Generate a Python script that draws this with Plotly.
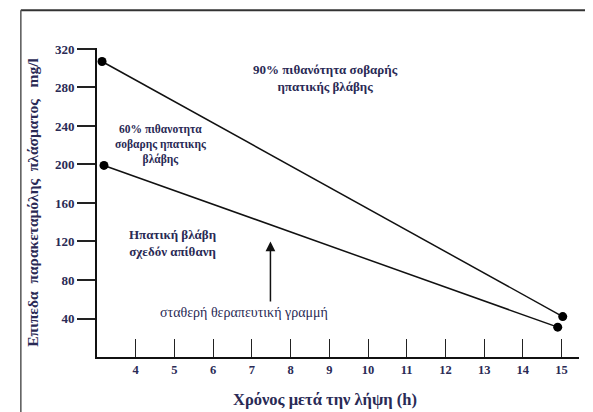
import plotly.graph_objects as go

# Data
upper_x = [3.13, 15.03]
upper_y = [307, 42]
lower_x = [3.18, 14.9]
lower_y = [199, 31]
x_ticks = [4, 5, 6, 7, 8, 9, 10, 11, 12, 13, 14, 15]
y_ticks = [40, 80, 120, 160, 200, 240, 280, 320]

NAVY = "#2a2a55"
FONT = "Liberation Serif"

fig = go.Figure()
for xs, ys in [(upper_x, upper_y), (lower_x, lower_y)]:
    fig.add_trace(go.Scatter(x=xs, y=ys, mode="lines+markers",
                             line=dict(color="#111111", width=1.5),
                             marker=dict(color="#000000", size=9),
                             showlegend=False, hoverinfo="skip"))

fig.update_xaxes(range=[3, 15.45], tickvals=x_ticks,
                 ticktext=[f"<b>{v}</b>" for v in x_ticks],
                 ticks="inside", ticklen=18,
                 tickwidth=1.2, tickcolor="#222", showline=True, linecolor="#111",
                 linewidth=2, showgrid=False, zeroline=False,
                 tickfont=dict(family=FONT, size=12.5, color=NAVY))
fig.update_yaxes(range=[0, 321], tickvals=y_ticks,
                 ticktext=[f"<b>{v}</b>" for v in y_ticks],
                 ticks="outside", ticklen=18,
                 tickwidth=1.5, tickcolor="#222", showline=True, linecolor="#111",
                 linewidth=2, showgrid=False, zeroline=False,
                 tickfont=dict(family=FONT, size=13, color=NAVY),
                 title=dict(text="<b>Επιπεδα  παρακεταμόλης  πλάσματος   mg/l</b>",
                            font=dict(family=FONT, size=15.5, color=NAVY), standoff=12))

# x axis title (placed as annotation to match offset position)
fig.add_annotation(xref="paper", yref="paper", x=(325 - 97) / 482, y=-0.138,
                   yanchor="middle", text="<b>Χρόνος μετά την λήψη (h)</b>",
                   showarrow=False, font=dict(family=FONT, size=16.5, color=NAVY))

fig.add_annotation(x=8.9, y=290, text="<b>90% πιθανότητα σοβαρής<br>ηπατικής βλάβης</b>",
                   showarrow=False, font=dict(family=FONT, size=13, color=NAVY))
fig.add_annotation(x=4.65, y=221, text="<b>60% πιθανοτητα<br>σοβαρης ηπατικης<br>βλάβης</b>",
                   showarrow=False, font=dict(family=FONT, size=11.5, color=NAVY))
fig.add_annotation(x=4.95, y=118, text="<b>Ηπατική βλάβη<br>σχεδόν απίθανη</b>",
                   showarrow=False, font=dict(family=FONT, size=13, color=NAVY))
fig.add_annotation(x=6.8, y=46, text="σταθερή θεραπευτική γραμμή",
                   showarrow=False, font=dict(family=FONT, size=14, color=NAVY))
fig.add_annotation(x=7.48, y=120, ax=7.48, ay=56, axref="x", ayref="y",
                   text="", showarrow=True, arrowhead=2, arrowsize=1.3,
                   arrowwidth=1.5, arrowcolor="#111")

# outer frame
fig.add_shape(type="line", xref="paper", yref="paper", x0=-0.158, x1=1.03, y0=1.122, y1=1.122,
              line=dict(color="#333", width=2))
fig.add_shape(type="line", xref="paper", yref="paper", x0=-0.158, x1=-0.158, y0=1.122, y1=-0.2,
              line=dict(color="#555", width=1.5))
fig.add_shape(type="line", xref="paper", yref="paper", x0=1.03, x1=1.03, y0=1.122, y1=-0.2,
              line=dict(color="#dddddd", width=1))

fig.update_layout(width=585, height=404, margin=dict(l=89, r=14, t=40, b=55),
                  plot_bgcolor="white", paper_bgcolor="white")
fig.write_html("out.html")
